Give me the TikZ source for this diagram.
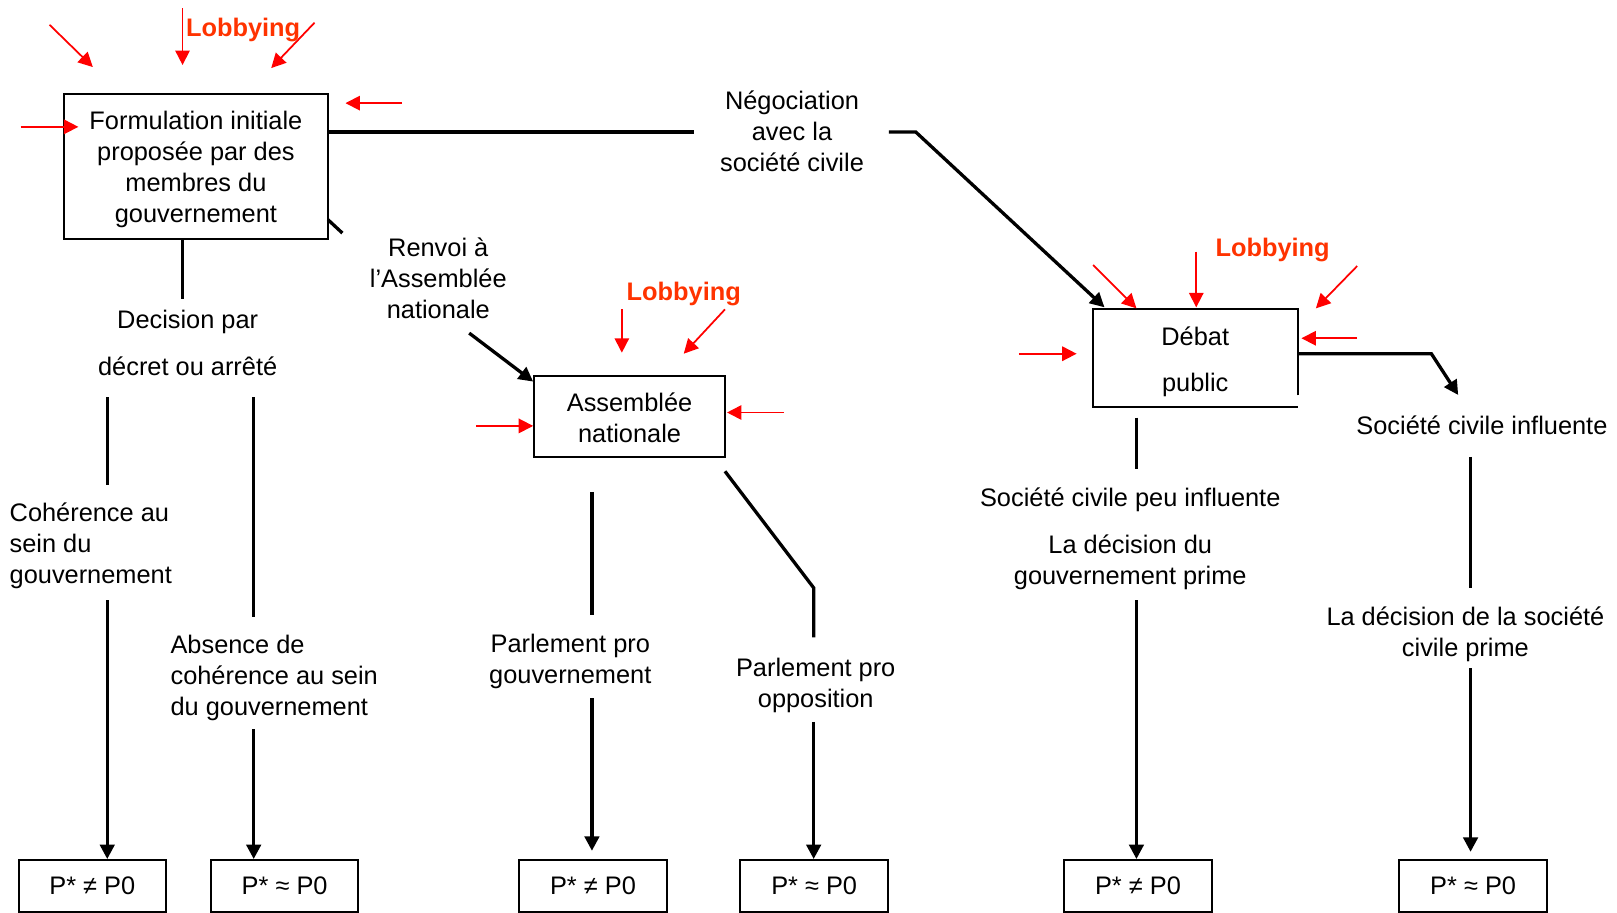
\documentclass[tikz,border=0pt]{standalone}
\usepackage{fontspec}
\setmainfont{Liberation Sans}
\usetikzlibrary{arrows.meta}
\definecolor{lobcol}{HTML}{FF3300}
\definecolor{redarr}{HTML}{FF0000}
\begin{document}
\begin{tikzpicture}[x=0.5pt,y=-0.5pt,
  txt/.style={inner sep=0pt, align=center, font=\fontsize{12.3}{15}\selectfont},
  boxnode/.style={draw, line width=1pt, inner sep=0pt, align=center, font=\fontsize{12.3}{15}\selectfont},
  res/.style={boxnode, minimum width=71.5pt, minimum height=25pt},
  thk/.style={line width=1.6pt},
  arr/.style={thk, -{Triangle[length=7pt,width=7pt]}},
  rarr/.style={draw=redarr, line width=0.85pt, -{Triangle[length=7pt,width=7pt]}},
  lob/.style={text=lobcol, inner sep=0pt, font=\bfseries\fontsize{12.3}{15}\selectfont}
]
\useasboundingbox (0,0) rectangle (1568,885);

% ---- nodes ----
\node[boxnode, minimum width=128pt, minimum height=70.5pt] (gov) at (190,161.5) {};
\node[txt] (govtxt) at (190,164) {Formulation initiale\\proposée par des\\membres du\\gouvernement};
\node[lob, anchor=west] (lob1) at (180,29) {Lobbying};
\node[txt] (nego) at (768,127) {Négociation\\avec la\\société civile};
\node[txt] (renvoi) at (425,270) {Renvoi à\\l’Assemblée\\nationale};
\node[txt] (dec) at (182,332.5) {Decision par\\[7.5pt]décret ou arrêté};
\node[txt, anchor=west, align=left] (coh) at (9,529) {Cohérence au\\sein du\\gouvernement};
\node[txt, anchor=west, align=left] (abs) at (165,657) {Absence de\\cohérence au sein\\du gouvernement};

\node[boxnode, minimum width=92.5pt, minimum height=39pt] (an) at (610.5,404) {};
\node[txt] (antxt) at (610.5,405) {Assemblée\\nationale};
\node[lob] (lob2) at (663,285) {Lobbying};
\node[txt] (ppg) at (553,641) {Parlement pro\\gouvernement};
\node[txt] (ppo) at (791,665) {Parlement pro\\opposition};

\node[inner sep=0pt, minimum width=99pt, minimum height=47pt] (debat) at (1159,347) {};
\node[txt] (debattxt) at (1159,351) {Débat\\[7.5pt]public};
\draw[line width=1pt] ([yshift=5.5pt]debat.south east) -- (debat.north east) -- (debat.north west)
  -- (debat.south west) -- (debat.south east);
\node[lob] (lob3) at (1234,242) {Lobbying};
\node[txt] (sci) at (1437,412) {Société civile influente};
\node[txt] (scpi) at (1096,485) {Société civile peu influente};
\node[txt] (dgp) at (1096,545) {La décision du\\gouvernement prime};
\node[txt] (dsc) at (1421,615) {La décision de la société\\civile prime};

\node[res] (r1) at (89.5,859) {P* ≠ P0};
\node[res] (r2) at (276,859) {P* ≈ P0};
\node[res] (r3) at (575,859) {P* ≠ P0};
\node[res] (r4) at (789.5,859) {P* ≈ P0};
\node[res] (r5) at (1103.5,859) {P* ≠ P0};
\node[res] (r6) at (1428.5,859) {P* ≈ P0};

% ---- coordinates ----
\coordinate (c1) at (177,290);
\coordinate (c2a) at (104,385); \coordinate (c2b) at (104,470);
\coordinate (c3) at (104,582);
\coordinate (c4a) at (246,385); \coordinate (c4b) at (246,598);
\coordinate (c5) at (246,707);
\coordinate (c6) at (673,128);
\coordinate (c7a) at (862,128); \coordinate (c7b) at (888,128); \coordinate (c7c) at (1071,298);
\coordinate (c8a) at (318,213); \coordinate (c8b) at (332,226);
\coordinate (c9) at (455,323); \coordinate (c9b) at (517,370);
\coordinate (c10a) at (574,477); \coordinate (c10b) at (574,596);
\coordinate (c11) at (574,677); \coordinate (c11b) at (574,825);
\coordinate (c12a) at (703,457); \coordinate (c12b) at (789,570); \coordinate (c12c) at (789,618);
\coordinate (c13) at (789,700);
\coordinate (c14a) at (1102,405); \coordinate (c14b) at (1102,455);
\coordinate (c15) at (1102,582);
\coordinate (c16) at (1388,343); \coordinate (c16b) at (1414,383);
\coordinate (c17a) at (1426,443); \coordinate (c17b) at (1426,570);
\coordinate (c18) at (1426,648); \coordinate (c18b) at (1426,826);

% ---- black connectors ----
\draw[thk] (gov.south -| c1) -- (c1);
\draw[thk] (c2a) -- (c2b);
\draw[arr] (c3) -- (r1.north -| c3);
\draw[thk] (c4a) -- (c4b);
\draw[arr] (c5) -- (r2.north -| c5);
\draw[thk] (gov.east |- c6) -- (c6);
\draw[arr] (c7a) -- (c7b) -- (c7c);
\draw[thk] (c8a) -- (c8b);
\draw[arr] (c9) -- (c9b);
\draw[thk] (c10a) -- (c10b);
\draw[arr] (c11) -- (c11b);
\draw[thk] (c12a) -- (c12b) -- (c12c);
\draw[arr] (c13) -- (r4.north -| c13);
\draw[thk] (c14a) -- (c14b);
\draw[arr] (c15) -- (r5.north -| c15);
\draw[arr] (debat.east |- c16) -- (c16) -- (c16b);
\draw[thk] (c17a) -- (c17b);
\draw[arr] (c18) -- (c18b);

% ---- red lobbying arrows ----
\draw[rarr] (48,24) -- (90,65);
\draw[rarr] (177,8) -- (177,63);
\draw[rarr] (305,22) -- (263,66);
\draw[rarr] (390,100) -- (335,100);
\draw[rarr] (20,123) -- (76,123);

\draw[rarr] (603,300) -- (603,342);
\draw[rarr] (703,300) -- (663,343);
\draw[rarr] (760,400) -- (705,400);
\draw[rarr] (462,413) -- (517,413);

\draw[rarr] (1060,257) -- (1102,299);
\draw[rarr] (1160,244) -- (1160,298);
\draw[rarr] (1316,258) -- (1276,299);
\draw[rarr] (1316,328) -- (1262,328);
\draw[rarr] (988,343) -- (1044,343);
\end{tikzpicture}
\end{document}
